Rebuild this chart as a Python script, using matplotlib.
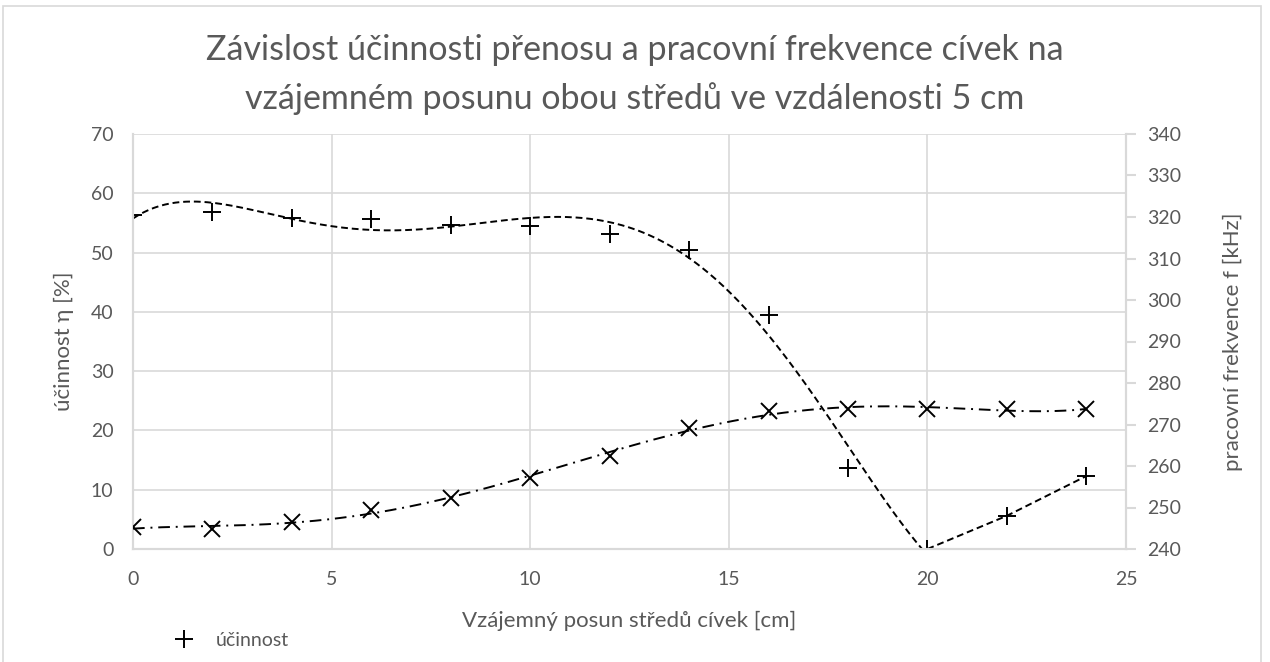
import numpy as np
import matplotlib
matplotlib.use("Agg")
import matplotlib.pyplot as plt
from matplotlib.patches import Rectangle

plt.rcParams['font.family'] = ['Lato', 'DejaVu Sans']

# posun středů cívek [cm]
posun = [0, 2, 4, 6, 8, 10, 12, 14, 16, 18, 20, 22, 24]
# účinnost [%]
ucinnost = [56.3, 56.9, 55.9, 55.6, 54.7, 54.4, 53.1, 50.4, 39.5, 13.7, 0.0, 5.6, 12.3]
# pracovní frekvence [kHz]
frekvence = [245.2, 244.7, 246.6, 249.4, 252.4, 257.2, 262.5, 269.1, 273.3, 273.7, 273.7, 273.7, 273.7]

seda = '#595959'
mrizka = '#d9d9d9'

fig = plt.figure(figsize=(12.7, 6.62), dpi=100)
fig.patches.append(Rectangle((3 / 1270, -0.1), 1258 / 1270, 1.1 - 6 / 662,
                             transform=fig.transFigure, fill=False,
                             edgecolor='#d9d9d9', linewidth=1.2))

ax = fig.add_axes([133 / 1270, 1 - 549 / 662, (1126 - 133) / 1270, (549 - 134) / 662])
ax2 = ax.twinx()

x = np.array(posun, dtype=float)
u = np.array(ucinnost)
f = np.array(frekvence)

# účinnost - body + polynomiální trend (0-20) a dopojení (20-24)
ax.plot(x, u, linestyle='none', marker='+', markersize=13, markeredgewidth=1.4,
        color='black', label='účinnost', zorder=5)
n = 11
koef = np.polyfit(x[:n], u[:n], 5)
xs = np.linspace(0, 20, 300)
ax.plot(xs, np.polyval(koef, xs), linestyle=(0, (3.5, 2)), color='black', linewidth=1.4, zorder=4)
ax.plot(x[n - 1:], u[n - 1:], linestyle=(0, (3.5, 2)), color='black', linewidth=1.4, zorder=4)

# frekvence - body x + trend
ax2.plot(x, f, linestyle='none', marker='x', markersize=11, markeredgewidth=1.4,
         color='black', zorder=5)
koef2 = np.polyfit(x, f, 5)
xs2 = np.linspace(0, 24, 300)
ax2.plot(xs2, np.polyval(koef2, xs2), linestyle=(0, (6, 3, 1, 3)), color='black', linewidth=1.4, zorder=4)

ax.set_xlim(0, 25)
ax.set_ylim(0, 70)
ax2.set_ylim(240, 340)
ax.set_xticks(np.arange(0, 26, 5))
ax.set_yticks(np.arange(0, 71, 10))
ax2.set_yticks(np.arange(240, 341, 10))

ax.grid(True, color=mrizka, linewidth=1.2)
ax.set_axisbelow(True)
for a in (ax, ax2):
    a.spines['top'].set_visible(False)
    for s in ('left', 'right', 'bottom'):
        a.spines[s].set_color(mrizka)
        a.spines[s].set_linewidth(1.5)
ax.tick_params(axis='x', length=0, labelsize=14, labelcolor=seda, pad=16)
ax.tick_params(axis='y', length=0, labelsize=14, labelcolor=seda, pad=14)
ax2.tick_params(axis='y', length=7, width=1.5, color=mrizka, labelsize=14, labelcolor=seda, pad=8)

ax.set_xlabel('Vzájemný posun středů cívek [cm]', fontsize=16, color=seda, labelpad=16)
ax.set_ylabel('účinnost η [%]', fontsize=16, color=seda, labelpad=12)
ax2.set_ylabel('pracovní frekvence f [kHz]', fontsize=16, color=seda, labelpad=30)

fig.text(0.5, 1 - 50 / 662, 'Závislost účinnosti přenosu a pracovní frekvence cívek na',
         ha='center', va='center', fontsize=24.5, color=seda)
fig.text(0.5, 1 - 99 / 662, 'vzájemném posunu obou středů ve vzdálenosti 5 cm',
         ha='center', va='center', fontsize=24.5, color=seda)

ax.legend(loc='center left', bbox_to_anchor=(152 / 1270, 1 - 640 / 662),
          bbox_transform=fig.transFigure, frameon=False, fontsize=14,
          labelcolor=seda, handlelength=1.5, handletextpad=0.9)

fig.savefig('out.png', dpi=100)
